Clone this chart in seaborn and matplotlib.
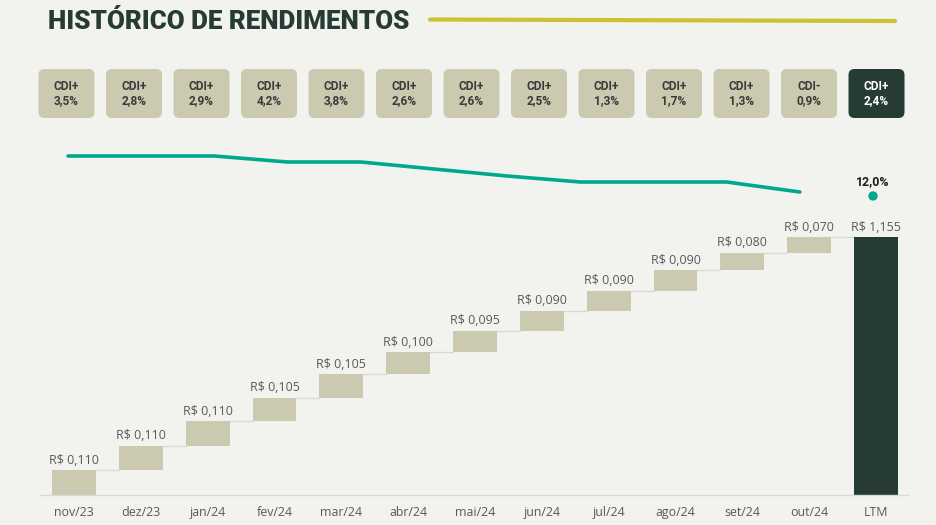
import numpy as np
import pandas as pd
import matplotlib
matplotlib.use("Agg")
import matplotlib.pyplot as plt
import seaborn as sns
from matplotlib.patches import FancyBboxPatch

# ---------------- data ----------------
months = ["nov/23", "dez/23", "jan/24", "fev/24", "mar/24", "abr/24",
          "mai/24", "jun/24", "jul/24", "ago/24", "set/24", "out/24"]
total_label = "LTM"
dividends = [0.110, 0.110, 0.110, 0.105, 0.105, 0.100,
             0.095, 0.090, 0.090, 0.090, 0.080, 0.070]
ltm_total = 1.155
cdi_spread = [3.5, 2.8, 2.9, 4.2, 3.8, 2.6, 2.6, 2.5, 1.3, 1.7, 1.3, -0.9, 2.4]
yield_line = [14.0, 14.0, 14.0, 13.7, 13.7, 13.35, 13.0, 12.7, 12.7, 12.7, 12.2]
ltm_yield = 12.0

# ---------------- style ----------------
BG = "#F2F3EE"
LIGHT = "#CBCAB1"
DARK = "#253B33"
TEAL = "#00A88F"
YELLOW = "#C9C232"
GRAY_TXT = "#595959"

sns.set_theme(style="white", rc={"axes.facecolor": BG, "figure.facecolor": BG})
plt.rcParams["font.family"] = ["Open Sans", "DejaVu Sans"]

W, H = 937, 525
fig = plt.figure(figsize=(W / 100, H / 100), dpi=100, facecolor=BG)

# overlay axes in pixel coordinates for header decorations
ax0 = fig.add_axes([0, 0, 1, 1])
ax0.set_xlim(0, W)
ax0.set_ylim(H, 0)
ax0.axis("off")

ax0.text(48, 29, "HISTÓRICO DE RENDIMENTOS", family=["Roboto", "DejaVu Sans"],
         fontweight="black", fontsize=18.7, color=DARK, va="baseline", ha="left")
ax0.plot([430, 895], [19.5, 21], color=YELLOW, lw=3, solid_capstyle="round")

# CDI boxes
box_w, box_h = 56, 49
for i, v in enumerate(cdi_spread):
    cx = 66.5 + 67.5 * i
    last = i == len(cdi_spread) - 1
    fc = DARK if last else LIGHT
    tc = "white" if last else "#3A3A3A"
    ax0.add_patch(FancyBboxPatch((cx - box_w / 2 + 6, 69 + 6), box_w - 12, box_h - 12,
                                 boxstyle="round,pad=6", fc=fc, ec="none"))
    sign = "+" if v >= 0 else "-"
    txt = f"CDI{sign}\n{abs(v):.1f}%".replace(".", ",")
    ax0.text(cx, 93.5, txt, ha="center", va="center", fontsize=8.6,
             fontweight="bold", color=tc, family=["Roboto", "DejaVu Sans"],
             linespacing=1.05)

# ---------------- waterfall bars ----------------
cats = months + [total_label]
tops = list(np.cumsum(dividends)) + [ltm_total]
bottoms = [0.0] + list(np.cumsum(dividends)[:-1]) + [0.0]
heights = dividends + [ltm_total]
df = pd.DataFrame({"cat": cats, "top": tops})

base_px, top_px = 495, 130
px_per_unit = 223.4
ax = fig.add_axes([40 / W, (H - base_px) / H, 868 / W, (base_px - top_px) / H])
sns.barplot(data=df, x="cat", y="top", order=cats, color=LIGHT, width=0.658,
            saturation=1, ax=ax)
for p, b, h in zip(ax.patches, bottoms, heights):
    p.set_y(b)
    p.set_height(h)
    p.set_edgecolor("none")
ax.patches[-1].set_facecolor(DARK)

# connectors
for i in range(len(cats) - 1):
    ax.plot([i + 0.329, i + 1 - 0.329], [tops[i], tops[i]], color="#D9D9D9",
            lw=1, zorder=0.5)

# labels
for i, (t, h) in enumerate(zip(tops, heights)):
    ax.annotate(f"R$ {h:.3f}".replace(".", ","), (i, t), xytext=(0, 2.5),
                textcoords="offset points", ha="center", va="bottom",
                fontsize=8.9, color=GRAY_TXT)

ax.set_xlim(-0.509, 12.479)
ax.set_ylim(0, (base_px - top_px) / px_per_unit)
ax.set_xlabel("")
ax.set_ylabel("")
ax.set_yticks([])
ax.tick_params(axis="x", length=0, pad=8, labelsize=8.9, labelcolor=GRAY_TXT)
for s in ["top", "right", "left"]:
    ax.spines[s].set_visible(False)
ax.spines["bottom"].set_color("#D9D9D9")
ax.spines["bottom"].set_linewidth(1)
ax.set_facecolor("none")

# ---------------- yield line ----------------
lax = fig.add_axes([40 / W, (H - base_px) / H, 868 / W, (base_px - top_px) / H])
lax.set_facecolor("none")
sns.lineplot(x=list(range(len(yield_line))), y=yield_line, ax=lax, color=TEAL,
             lw=2.6, solid_capstyle="round")
sns.scatterplot(x=[len(yield_line)], y=[ltm_yield], ax=lax, color=TEAL, s=45,
                edgecolor="none")
lax.annotate(f"{ltm_yield:.1f}%".replace(".", ","), (len(yield_line), ltm_yield),
             xytext=(0, 6), textcoords="offset points", ha="center", va="bottom",
             fontsize=8.8, fontweight="bold", color="#1A1A1A",
             family=["Roboto", "DejaVu Sans"])
lax.set_xlim(-0.383, 11.478)
lax.set_ylim(12 + (196 - base_px) * 0.05, 12 + (196 - top_px) * 0.05)
lax.axis("off")

fig.savefig("out.png", dpi=100, facecolor=BG)
